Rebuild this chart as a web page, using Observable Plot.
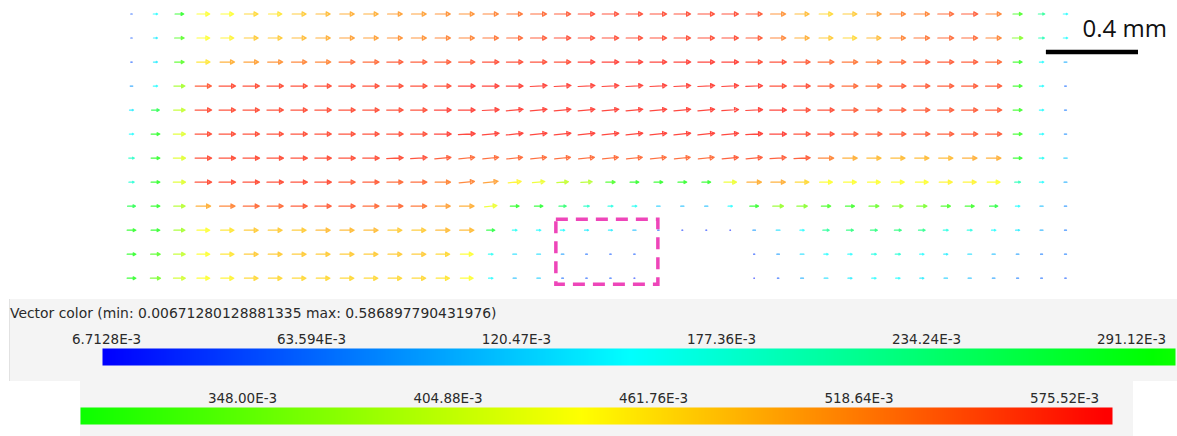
<!DOCTYPE html>
<html><head><meta charset="utf-8">
<script src="https://cdn.jsdelivr.net/npm/d3@7"></script>
<script src="https://cdn.jsdelivr.net/npm/@observablehq/plot@0.6"></script>
<style>
body{margin:0;background:#fff;}
#wrap{position:relative;width:1177px;height:436px;overflow:hidden;font-family:"DejaVu Sans",sans-serif;}
#wrap > *{position:absolute;}
.panel{background:#f4f4f4;}
#title{left:10px;top:305px;font-size:13.9px;color:#2a2a2a;white-space:nowrap;}
</style></head><body><div id="wrap"></div>
<script>
// ---- vector magnitudes (one array per grid row, top to bottom; null = no vector)
const row00 = [0.05,0.15,0.30,0.44,0.44,0.47,0.46,0.48,0.49,0.50,0.50,0.51,0.51, 0.52,0.52,0.53,0.54,0.55,0.56,0.57,0.57,0.57,0.57,0.57,0.57, 0.57,0.56,0.52,0.49,0.47,0.48,0.51,0.53,0.53,0.55,0.56,0.53,0.32,0.22,0.15];
const row01 = [0.05,0.14,0.33,0.44,0.45,0.48,0.48,0.49,0.50,0.51,0.51,0.52,0.52, 0.53,0.53,0.54,0.55,0.56,0.57,0.57,0.57,0.57,0.57,0.57,0.57, 0.57,0.56,0.53,0.50,0.48,0.47,0.49,0.53,0.54,0.55,0.55,0.53,0.36,0.20,0.15];
const row02 = [0.05,0.14,0.33,0.46,0.50,0.51,0.52,0.53,0.53,0.55,0.55,0.56,0.56, 0.56,0.56,0.57,0.57,0.57,0.57,0.58,0.58,0.58,0.58,0.58,0.58, 0.58,0.57,0.57,0.56,0.55,0.54,0.54,0.55,0.56,0.56,0.56,0.55,0.31,0.15,0.10];
const row03 = [0.09,0.15,0.38,0.56,0.57,0.57,0.57,0.57,0.57,0.57,0.57,0.57,0.57, 0.57,0.58,0.58,0.58,0.58,0.58,0.58,0.58,0.58,0.58,0.58,0.58, 0.58,0.58,0.57,0.57,0.56,0.55,0.55,0.56,0.56,0.56,0.56,0.56,0.31,0.15,0.06];
const row04 = [0.14,0.27,0.40,0.57,0.57,0.57,0.57,0.57,0.57,0.57,0.57,0.57,0.57, 0.58,0.58,0.58,0.58,0.58,0.58,0.58,0.58,0.58,0.58,0.58,0.58, 0.58,0.58,0.58,0.57,0.57,0.56,0.56,0.56,0.56,0.56,0.56,0.56,0.31,0.15,0.07];
const row05 = [0.15,0.30,0.42,0.57,0.57,0.57,0.57,0.57,0.57,0.57,0.57,0.57,0.57, 0.58,0.58,0.58,0.58,0.58,0.58,0.58,0.58,0.58,0.58,0.58,0.58, 0.58,0.58,0.58,0.57,0.57,0.56,0.56,0.56,0.56,0.56,0.56,0.56,0.31,0.15,0.08];
const row06 = [0.19,0.30,0.42,0.57,0.57,0.57,0.57,0.57,0.57,0.57,0.57,0.57,0.57, 0.56,0.55,0.55,0.55,0.55,0.55,0.55,0.55,0.55,0.55,0.55,0.55, 0.56,0.56,0.56,0.56,0.53,0.50,0.49,0.49,0.49,0.49,0.50,0.50,0.30,0.16,0.12];
const row07 = [0.18,0.30,0.42,0.57,0.57,0.57,0.57,0.57,0.57,0.56,0.56,0.55,0.55, 0.53,0.53,0.51,0.45,0.43,0.40,0.39,0.32,0.30,0.30,0.30,0.30, 0.43,0.50,0.50,0.47,0.44,0.44,0.44,0.44,0.44,0.45,0.45,0.44,0.20,0.15,0.10];
const row08 = [0.27,0.30,0.39,0.50,0.53,0.55,0.55,0.56,0.56,0.56,0.55,0.55,0.54, 0.51,0.50,0.43,0.30,0.29,0.25,0.19,0.17,0.16,0.12,0.11,0.11, 0.15,0.30,0.37,0.36,0.32,0.31,0.34,0.36,0.35,0.32,0.31,0.28,0.15,0.11,0.08];
const row09 = [0.30,0.30,0.38,0.44,0.46,0.48,0.48,0.48,0.49,0.49,0.49,0.48,0.48, 0.49,0.49,0.28,0.16,0.15,0.15,0.14,0.14,0.11,0.05,0.03,0.03, 0.02,0.09,0.13,0.15,0.22,0.24,0.24,0.24,0.23,0.17,0.17,0.15,0.14,0.10,0.07];
const row10 = [0.30,0.33,0.40,0.44,0.46,0.48,0.48,0.48,0.48,0.48,0.48,0.48,0.48, 0.47,0.44,0.16,0.13,0.13,0.09,0.06,0.05,0.05,null,null,null, null,0.04,0.09,0.13,0.15,0.15,0.17,0.18,0.15,0.14,0.13,0.11,0.09,0.07,0.07];
const row11 = [0.30,0.35,0.41,0.44,0.45,0.47,0.47,0.47,0.47,0.47,0.47,0.47,0.47, 0.46,0.44,0.15,0.11,0.12,0.06,0.05,0.05,0.03,null,null,null, null,0.02,0.05,0.10,0.13,0.14,0.15,0.15,0.14,0.12,0.11,0.09,0.07,0.06,0.05];

// ---- upward tilt of each vector in degrees (rows not listed are horizontal)
const tilt03 = [0,0,0,0,0,0,0,0,0,0,0,0,0, 0,0,0,0,3,3,3,3,3,3,3,3, 3,2,0,0,0,0,0,0,0,0,0,0,0,0,0];
const tilt04 = [0,0,0,0,0,0,0,0,0,0,0,0,0, 0,0,3,5,5,5,5,5,5,5,5,5, 4,3,0,0,0,0,0,0,0,0,0,0,0,0,0];
const tilt05 = [0,0,0,0,0,0,0,0,0,0,0,0,0, 0,3,5,6,6,6,6,6,6,6,6,6, 5,3,0,0,0,0,0,0,0,0,0,0,0,0,0];
const tilt06 = [0,0,0,0,0,0,0,0,0,0,0,3,4, 5,6,6,6,6,6,6,6,6,6,6,6, 5,5,4,3,0,0,0,0,0,0,0,0,0,0,0];
const tilt07 = [0,0,0,0,0,0,0,0,0,0,0,0,0, 0,5,6,6,5,4,3,0,0,0,0,0, 0,0,0,0,0,0,0,0,0,0,0,0,0,0,0];
const tilt08 = [0,0,0,0,0,0,0,0,0,0,0,0,0, 0,0,6,0,0,0,0,0,0,0,0,0, 0,0,0,0,0,0,0,0,0,0,0,0,0,0,0];

const magnitudeRows = [row00,row01,row02,row03,row04,row05,row06,row07,row08,row09,row10,row11];
const tiltRows = {3: tilt03, 4: tilt04, 5: tilt05, 6: tilt06, 7: tilt07, 8: tilt08};

// ---- colour bar
const vMin = 0.00671280128881335, vMax = 0.586897790431976;
const ticks1 = [0.0067128, 0.063594, 0.12047, 0.17736, 0.23424, 0.29112];
const labels1 = ["6.7128E-3","63.594E-3","120.47E-3","177.36E-3","234.24E-3","291.12E-3"];
const ticks2 = [0.348, 0.40488, 0.46176, 0.51864, 0.57552];
const labels2 = ["348.00E-3","404.88E-3","461.76E-3","518.64E-3","575.52E-3"];
const titleText = "Vector color (min: 0.00671280128881335 max: 0.586897790431976)";
const scaleLabel = "0.4 mm", scaleLength = 0.4;

// grid spacing (mm)
const SP = 0.104;
const q = (vMax - vMin) / 4;
const colorScale = {type: "linear", domain: [vMin, vMin+q, vMin+2*q, vMin+3*q, vMax],
  range: ["#0000ff","#00ffff","#00ff00","#ffff00","#ff0000"], interpolate: "rgb"};

const data = [];
magnitudeRows.forEach((row, j) => row.forEach((m, i) => {
  if (m == null) return;
  const t = tiltRows[j] ? tiltRows[j][i] : 0;
  data.push({x: i * SP, y: j * SP, m, r: 90 - t});
}));

const arrowShape = {
  draw(context, l) {
    const h = Math.min(4, l * 0.3), w = h * 0.55;
    context.moveTo(0, 0);
    context.lineTo(0, -l);
    if (h > 1.2) {
      context.moveTo(-w, h - l);
      context.lineTo(0, -l);
      context.lineTo(w, h - l);
      context.closePath();
    }
  }
};

const wrap = document.getElementById("wrap");

const main = Plot.plot({
  width: 1177, height: 292,
  x: {domain: [0, 39 * SP], range: [131, 1065], axis: null},
  y: {domain: [0, 11 * SP], range: [13.5, 277.7], axis: null},
  color: colorScale,
  length: {domain: [0, vMax], range: [0, 17]},
  marks: [
    Plot.vector(data, {x: "x", y: "y", length: "m", rotate: "r", stroke: "m",
      anchor: "middle", shape: arrowShape, strokeWidth: 1.2, strokeOpacity: 0.75}),
    Plot.rect([0], {x1: 1.845, x2: 2.288, y1: 0.8905, y2: 1.172, fill: "none",
      stroke: "#ee45b9", strokeWidth: 3.5, strokeDasharray: "12,8"}),
    Plot.ruleY([0.1647], {x1: 3.973, x2: 3.973 + scaleLength, stroke: "black", strokeWidth: 4.5}),
    Plot.text([scaleLabel], {x: 4.313, y: 0.066, text: d => d, fontSize: 24,
      fontFamily: "Open Sans", fill: "#111"})
  ]
});
main.style.left = "0px"; main.style.top = "0px";
wrap.appendChild(main);

const p1 = document.createElement("div");
p1.className = "panel";
Object.assign(p1.style, {left: "9px", top: "299px", width: "1168px", height: "82px", borderLeft: "1px solid #e2e2e2"});
wrap.appendChild(p1);
const p2 = document.createElement("div");
p2.className = "panel";
Object.assign(p2.style, {left: "80px", top: "381px", width: "1053px", height: "55px"});
wrap.appendChild(p2);

const title = document.createElement("div");
title.id = "title"; title.textContent = titleText;
wrap.appendChild(title);

function bar(domain, range, ticks, labels, top) {
  const svg = Plot.plot({
    width: 1177, height: 40, marginTop: 20, marginBottom: 3,
    style: {background: "transparent", fontFamily: "DejaVu Sans, sans-serif"},
    x: {domain, range},
    y: {domain: [0, 1], axis: null},
    color: colorScale,
    marks: [
      Plot.raster({x1: domain[0], x2: domain[1], y1: 0, y2: 1, width: 1200, height: 1,
        fill: (x, y) => x}),
      Plot.axisX({anchor: "top", ticks, tickSize: 0, tickPadding: 5, fontSize: 13.5,
        fill: "#2a2a2a", tickFormat: (d, i) => labels[i]})
    ]
  });
  svg.style.left = "0px"; svg.style.top = top + "px";
  wrap.appendChild(svg);
}
bar([0.0056, 0.30333], [102, 1175], ticks1, labels1, 328);
bar([0.30316, 0.58881], [80, 1112], ticks2, labels2, 387);
</script></body></html>
